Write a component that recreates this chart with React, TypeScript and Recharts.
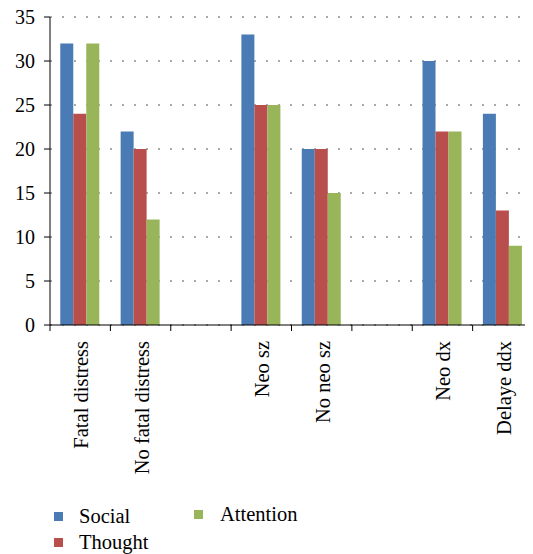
import { Bar, BarChart, CartesianGrid, XAxis, YAxis } from 'recharts'

const categories = ['Fatal distress', 'No fatal distress', '', 'Neo sz', 'No neo sz', ' ', 'Neo dx', 'Delaye ddx']
const social = [32, 22, null, 33, 20, null, 30, 24]
const thought = [24, 20, null, 25, 20, null, 22, 13]
const attention = [32, 12, null, 25, 15, null, 22, 9]
const yTicks = [0, 5, 10, 15, 20, 25, 30, 35]

const FONT = 'Liberation Serif, serif'
const W = 535
const H = 554
const M = { top: 17, right: 2, left: 0, bottom: 0 }
const Y_W = 50
const SLOT = (W - M.left - M.right - Y_W) / categories.length

const COLORS = { social: '#4a7bb5', thought: '#b94f4c', attention: '#98b55a' }

const legendItems = [
  { label: 'Social', color: COLORS.social, sx: 54, sy: 512, tx: 79, ty: 504 },
  { label: 'Thought', color: COLORS.thought, sx: 54, sy: 538, tx: 79, ty: 530 },
  { label: 'Attention', color: COLORS.attention, sx: 194, sy: 510, tx: 220, ty: 502 },
]

const data = categories.map((name, i) => ({
  name,
  social: social[i],
  thought: thought[i],
  attention: attention[i],
}))

function XTick(props: any) {
  const { x, y, payload, index } = props
  const half = SLOT / 2
  const ty = y + 16
  return (
    <g>
      <line x1={x - half} x2={x - half} y1={y} y2={y + 6} stroke="#000" />
      {index === categories.length - 1 && (
        <line x1={x + half} x2={x + half} y1={y} y2={y + 6} stroke="#000" />
      )}
      <text
        x={x + 1}
        y={ty}
        transform={`rotate(-90, ${x + 1}, ${ty})`}
        textAnchor="end"
        dominantBaseline="central"
        fontSize={20.5}
        fontFamily={FONT}
        fill="#000"
      >
        {payload.value.trim()}
      </text>
    </g>
  )
}

function YTick(props: any) {
  const { x, y, payload } = props
  return (
    <text x={x} y={y} textAnchor="end" dominantBaseline="central" fontSize={20} fontFamily={FONT} fill="#000">
      {payload.value}
    </text>
  )
}

export default function App() {
  return (
    <div style={{ position: 'relative', marginLeft: -8, marginTop: -8, width: 533, height: 554, overflow: 'hidden' }}>
      <BarChart width={W} height={H} data={data} margin={M} barCategoryGap="17%" barGap={0}>
        <CartesianGrid vertical={false} stroke="#555" strokeDasharray="2 10" />
        <XAxis
          dataKey="name"
          interval={0}
          height={H - 325 - M.bottom}
          tickSize={0}
          tickMargin={0}
          tickLine={false}
          axisLine={{ stroke: '#000' }}
          tick={<XTick />}
        />
        <YAxis
          domain={[0, 35]}
          ticks={yTicks}
          width={Y_W}
          tickSize={6}
          tickMargin={9}
          axisLine={{ stroke: '#000' }}
          tickLine={{ stroke: '#000' }}
          tick={<YTick />}
        />
        <Bar dataKey="social" fill={COLORS.social} isAnimationActive={false} />
        <Bar dataKey="thought" fill={COLORS.thought} isAnimationActive={false} />
        <Bar dataKey="attention" fill={COLORS.attention} isAnimationActive={false} />
      </BarChart>
      {legendItems.map(it => (
        <div key={it.label}>
          <div style={{ position: 'absolute', left: it.sx, top: it.sy, width: 9, height: 9, background: it.color }} />
          <div style={{ position: 'absolute', left: it.tx, top: it.ty, fontFamily: FONT, fontSize: 20.5, lineHeight: '24px', color: '#000' }}>
            {it.label}
          </div>
        </div>
      ))}
    </div>
  )
}
